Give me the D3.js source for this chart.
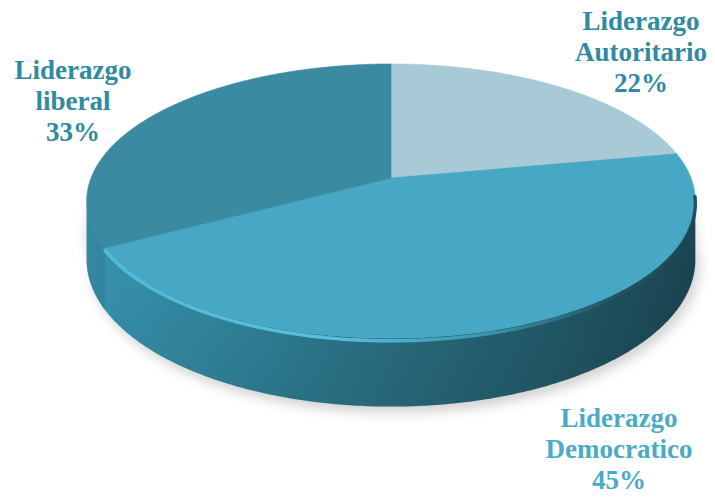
<!DOCTYPE html>
<html>
<head>
<meta charset="utf-8">
<script src="https://cdn.jsdelivr.net/npm/d3@7"></script>
<style>
  body { margin: 0; background: #fff; }
  svg { display: block; }
</style>
</head>
<body>
<div id="pie3d"></div>
<script>
// datos
var categorias = ["Autoritario", "Democratico", "liberal"];
var valores = [22, 45, 33];

var width = 715, height = 497;

// perspectiva de la torta
var cx = 391, cy = 178,
    rx = 300, ry = 133.2,
    persp = -0.168,
    grosor = 57;

// colores cara superior / texto
var colorTop = d3.scaleOrdinal().domain(categorias).range(["#a8cad7", "#46a8c4", "#3a8aa1"]);
var colorText = d3.scaleOrdinal().domain(categorias).range(["#2f8aa2", "#4aaac8", "#2f8aa2"]);

// posicion de etiquetas (centro de la primera linea)
var labelPos = {
    "Autoritario": [641, 30],
    "Democratico": [619, 427],
    "liberal": [73, 79]
};

function proj(theta, depth) {
    var u = Math.sin(theta), v = -Math.cos(theta);
    var k = 1 / (1 + persp * v);
    return [cx + rx * u * k, cy + ry * v * k + (depth || 0) * grosor * k];
}

function arcPts(a0, a1, depth) {
    var n = Math.max(2, Math.ceil(Math.abs(a1 - a0) / 0.01)), pts = [];
    for (var i = 0; i <= n; i++) pts.push(proj(a0 + (a1 - a0) * i / n, depth));
    return pts;
}

var line = d3.line();

var svg = d3.select("#pie3d").append("svg")
    .attr("width", width)
    .attr("height", height);

var defs = svg.append("defs");

defs.append("filter").attr("id", "blur")
    .attr("x", "-20%").attr("y", "-20%").attr("width", "140%").attr("height", "140%")
    .append("feGaussianBlur").attr("stdDeviation", 6);

var gSide = defs.append("linearGradient").attr("id", "side")
    .attr("gradientUnits", "userSpaceOnUse")
    .attr("x1", 88).attr("x2", 697).attr("y1", 0).attr("y2", 0);
[[0, "#3a98b4"], [0.25, "#3288a1"], [0.5, "#2b7285"], [0.75, "#245e6e"], [0.9, "#1f4f5d"], [1, "#1c4653"]]
    .forEach(function(s) { gSide.append("stop").attr("offset", s[0]).attr("stop-color", s[1]); });

var gRim = defs.append("linearGradient").attr("id", "rim")
    .attr("gradientUnits", "userSpaceOnUse")
    .attr("x1", 100).attr("x2", 697).attr("y1", 0).attr("y2", 0);
[[0, "#52bfdc"], [0.4, "#5cc8e6"], [0.65, "#3c9ab4"], [0.85, "#24596a"], [1, "#1c4553"]]
    .forEach(function(s) { gRim.append("stop").attr("offset", s[0]).attr("stop-color", s[1]); });

var gShade = defs.append("linearGradient").attr("id", "shade")
    .attr("x1", 0).attr("x2", 0).attr("y1", 0).attr("y2", 1);
gShade.append("stop").attr("offset", 0).attr("stop-color", "#000").attr("stop-opacity", 0);
gShade.append("stop").attr("offset", 1).attr("stop-color", "#000").attr("stop-opacity", 0.12);

var pie = d3.pie().sort(null).value(function(d) { return d.valor; });
var data = categorias.map(function(c, i) { return { cat: c, valor: valores[i] }; });
var arcs = pie(data);

// silueta lateral visible
var aL = Math.acos(persp), aR = 2 * Math.PI - Math.acos(persp);
var sidePts = arcPts(aL, aR, 0).concat(arcPts(aR, aL, 1));

// sombra
var shadowPts = arcPts(aL - 0.3, aR + 0.3, 1).map(function(p) { return [p[0] + 4, p[1] + 6]; });
svg.append("path")
    .attr("d", line(arcPts(0, 2 * Math.PI, 0.6).concat(shadowPts)) + "Z")
    .attr("fill", "#9a9a9a")
    .attr("opacity", 0.45)
    .attr("filter", "url(#blur)");

// lateral
svg.append("path")
    .attr("d", line(sidePts) + "Z")
    .attr("fill", "url(#side)");
svg.append("path")
    .attr("d", line(sidePts) + "Z")
    .attr("fill", "url(#shade)");

// lateral de la porcion liberal (mas oscura)
arcs.forEach(function(a) {
    var s = Math.max(a.startAngle, aL), e = Math.min(a.endAngle, aR);
    if (e <= s || a.data.cat !== "liberal") return;
    svg.append("path")
        .attr("d", line(arcPts(s, e, 0).concat(arcPts(e, s, 1))) + "Z")
        .attr("fill", "#2f7d93")
        .attr("opacity", 0.55);
});

// cara superior
svg.selectAll("path.slice")
    .data(arcs)
    .enter().append("path")
    .attr("class", "slice")
    .attr("d", function(d) {
        return line([[cx, cy]].concat(arcPts(d.startAngle, d.endAngle, 0))) + "Z";
    })
    .attr("fill", function(d) { return colorTop(d.data.cat); })
    .attr("stroke", function(d) { return colorTop(d.data.cat); })
    .attr("stroke-width", 0.6);

// borde biselado frontal (solo porcion democratica)
var dem = arcs.filter(function(a) { return a.data.cat === "Democratico"; })[0];
svg.append("path")
    .attr("d", line(arcPts(aL - 0.05, dem.endAngle, 0.04)))
    .attr("fill", "none")
    .attr("stroke", "url(#rim)")
    .attr("stroke-width", 3.5)
    .attr("stroke-linecap", "round")
    .attr("opacity", 0.9);

// etiquetas
var labels = svg.selectAll("text.lbl")
    .data(arcs)
    .enter().append("text")
    .attr("class", "lbl")
    .attr("text-anchor", "middle")
    .attr("font-family", "'Liberation Serif', 'DejaVu Serif', serif")
    .attr("font-weight", "bold")
    .attr("font-size", "27px")
    .attr("fill", function(d) { return colorText(d.data.cat); });

labels.each(function(d) {
    var p = labelPos[d.data.cat], t = d3.select(this);
    ["Liderazgo", d.data.cat, d.data.valor + "%"].forEach(function(s, i) {
        t.append("tspan").attr("x", p[0]).attr("y", p[1] + i * 31).text(s);
    });
});
</script>
</body>
</html>
